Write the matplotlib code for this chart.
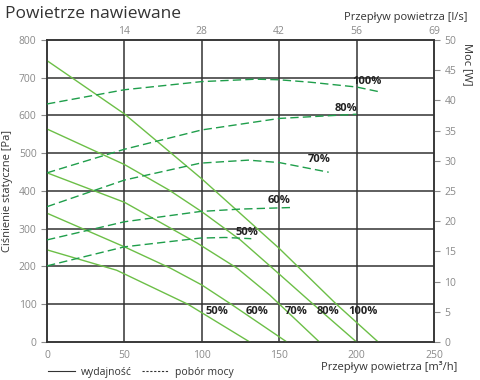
import matplotlib
matplotlib.use('Agg')
import matplotlib.pyplot as plt
from matplotlib.lines import Line2D

plt.rcParams['font.family'] = ['Open Sans', 'DejaVu Sans']

# flow [m3/h] vs static pressure [Pa] (solid, left axis)
levels = ['50%', '60%', '70%', '80%', '100%']
flow_p = {
    '50%': [0, 45, 91, 131],
    '60%': [0, 50, 80, 100, 119, 155],
    '70%': [0, 50, 97, 123, 144, 176],
    '80%': [0, 50, 79, 100, 125, 150, 172, 200],
    '100%': [0, 16, 50, 100, 125, 150, 187, 214],
}
pressure = {
    '50%': [244, 190, 100, 0],
    '60%': [341, 252, 195, 151, 100, 0],
    '70%': [448, 370, 262, 195, 124, 0],
    '80%': [564, 470, 402, 345, 270, 180, 100, 0],
    '100%': [745, 700, 604, 432, 340, 248, 100, 0],
}

# flow [m3/h] vs power [W] (dashed, right axis)
flow_w = {
    '50%': [0, 50, 99, 115, 132],
    '60%': [0, 50, 99, 125, 157],
    '70%': [0, 50, 99, 130, 150, 182],
    '80%': [0, 50, 100, 150, 200],
    '100%': [0, 50, 100, 135, 150, 170, 200, 215],
}
power = {
    '50%': [12.6, 15.75, 17.2, 17.3, 17.1],
    '60%': [16.9, 19.9, 21.6, 22.0, 22.25],
    '70%': [22.4, 26.8, 29.6, 30.1, 29.7, 28.1],
    '80%': [28.0, 31.9, 35.1, 37.0, 37.7],
    '100%': [39.4, 41.75, 43.1, 43.5, 43.4, 43.0, 42.2, 41.4],
}

# label positions (flow, pressure)
power_lbl_x = [129, 150, 176, 193, 207]
power_lbl_y = [291, 376, 482, 619, 689]
press_lbl_x = [110, 136, 161, 181.5, 204]
press_lbl_y = [82, 82, 82, 82, 82]

top_ticks = [50, 100, 150, 200, 250]
top_labels = ['14', '28', '42', '56', '69']

solid_c = '#6cbf47'
dash_c = '#1f9e4b'
grid_c = '#333333'
tick_c = '#8a8a8a'

fig = plt.figure(figsize=(4.8, 3.8), dpi=100)
ax = fig.add_axes([0.098, 0.1, 0.806, 0.795])

for v in [50, 100, 150, 200]:
    ax.axvline(v, color=grid_c, lw=1.1, zorder=1)
for v in range(100, 800, 100):
    ax.axhline(v, color=grid_c, lw=1.1, zorder=1)

for lv in levels:
    ax.plot(flow_p[lv], pressure[lv], color=solid_c, lw=1.0, zorder=3)

ax.set_xlim(0, 250)
ax.set_ylim(0, 800)
ax.set_xticks([0, 50, 100, 150, 200, 250])
ax.set_yticks(range(0, 900, 100))
ax.tick_params(axis='x', length=0, labelsize=7.5, colors=tick_c, pad=6)
ax.tick_params(axis='y', length=4, labelsize=7.5, colors=tick_c, direction='out')
for s in ax.spines.values():
    s.set_color(grid_c)
    s.set_linewidth(1.1)
ax.set_ylabel('Ciśnienie statyczne [Pa]', fontsize=8, color='#333333', labelpad=4)

for i, lv in enumerate(levels):
    ax.text(press_lbl_x[i], press_lbl_y[i], lv, fontsize=8, fontweight='bold',
            ha='center', va='center', color='#222222', zorder=5)
    ax.text(power_lbl_x[i], power_lbl_y[i], lv, fontsize=8, fontweight='bold',
            ha='center', va='center', color='#222222', zorder=5)

ax2 = ax.twinx()
for lv in levels:
    ax2.plot(flow_w[lv], power[lv], color=dash_c, lw=1.0, dashes=(6, 3), zorder=3)
ax2.set_ylim(0, 50)
ax2.set_yticks(range(0, 55, 5))
ax2.tick_params(axis='y', length=4, labelsize=7.5, colors=tick_c, direction='out')
for s in ax2.spines.values():
    s.set_color(grid_c)
    s.set_linewidth(1.1)
ax2.set_ylabel('Moc [W]', fontsize=8, color='#333333', rotation=270, labelpad=10)
ax2.yaxis.set_label_coords(1.10, 0.92)

ax3 = ax.twiny()
ax3.set_xlim(0, 250)
ax3.set_xticks(top_ticks)
ax3.set_xticklabels(top_labels)
ax3.tick_params(axis='x', length=0, labelsize=7.5, colors=tick_c, pad=2)
for s in ax3.spines.values():
    s.set_visible(False)

fig.text(0.010, 0.962, 'Powietrze nawiewane', fontsize=12.5, color='#333333', va='center')
fig.text(0.975, 0.955, 'Przepływ powietrza [l/s]', fontsize=8, color='#333333',
         ha='right', va='center')
fig.text(0.952, 0.033, 'Przepływ powietrza [m³/h]', fontsize=8, color='#333333',
         ha='right', va='center')

handles = [Line2D([], [], color='#333333', lw=0.8),
           Line2D([], [], color='#333333', lw=0.8, dashes=(2, 1.5))]
fig.legend(handles, ['wydajność', 'pobór mocy'], loc='center left',
           bbox_to_anchor=(0.08, 0.021), ncol=2, frameon=False, fontsize=7.5,
           handlelength=2.6, columnspacing=1.0, handletextpad=0.55,
           labelcolor='#333333')

fig.savefig('out.png', dpi=100)
